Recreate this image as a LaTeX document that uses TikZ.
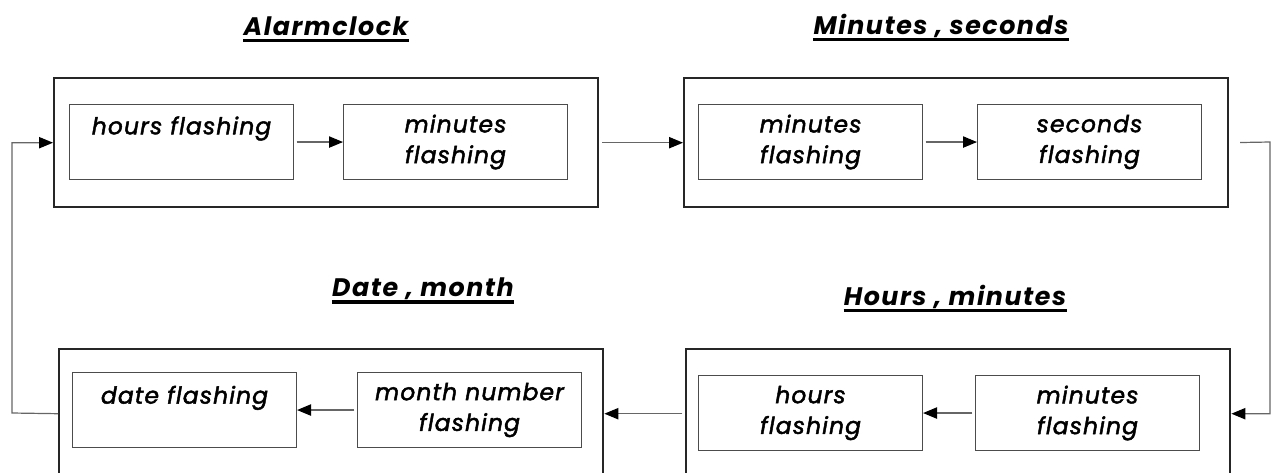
\documentclass[tikz,border=0pt]{standalone}
\usepackage{fontspec}
\setmainfont{Poppins}
\newfontfamily\boxfont{Poppins}[LetterSpace=5,FakeBold=2]
\newfontfamily\headfont{Poppins}[LetterSpace=6]
\usetikzlibrary{arrows.meta}

\begin{document}
\begin{tikzpicture}
  [x=0.75pt,y=-0.75pt,
   outer/.style={draw=black!85,line width=1.8pt,minimum width=408pt,minimum height=96.75pt,anchor=north west,inner sep=0pt},
   inner/.style={draw=black!70,line width=0.8pt,minimum width=168pt,minimum height=56.25pt,anchor=north west,
     align=center,font=\boxfont\itshape\fontsize{17.5}{23}\selectfont,inner sep=0pt},
   title/.style={font=\headfont\bfseries\itshape\fontsize{19}{22}\selectfont,inner sep=0pt},
   link/.style={draw=black!60,line width=0.9pt,-{Triangle[length=10.5pt,width=8.5pt,color=black]}}]
  \useasboundingbox (0,0) rectangle (1274,472);
  \clip (0,0) rectangle (1274,472);

  % top row
  \node[title] (t1) at (326,26) {Alarmclock};
  \node[title] (t2) at (941,26) {Minutes , seconds};
  \node[outer] (alarm) at (53,77) {};
  \node[outer] (ms) at (683,77) {};
  \node[inner] (a1) at (69,104)  {hours flashing\\[2pt]\mbox{}};
  \node[inner] (a2) at (343,104) {minutes\\flashing};
  \node[inner] (m1) at (698,104) {minutes\\flashing};
  \node[inner] (m2) at (977,104) {seconds\\flashing};

  % bottom row
  \node[title] (t3) at (423,289) {Date , month};
  \node[title] (t4) at (955,297) {Hours , minutes};
  \node[outer] (dm) at (58,348) {};
  \node[outer] (hm) at (685,348) {};
  \node[inner] (d1) at (72,372)  {date flashing\\\mbox{}};
  \node[inner] (d2) at (357,372) {month number\\flashing};
  \node[inner] (h1) at (698,375) {hours\\flashing};
  \node[inner] (h2) at (975,375) {minutes\\flashing};

  \coordinate (rloop) at (1270,142);
  \coordinate (lloop) at (12,413);

\foreach \t in {t1,t2,t3,t4}
    \draw[line width=2.4pt] ([yshift=-4pt]\t.base west) -- ([yshift=-4pt]\t.base east);
\foreach \from/\to in
{a1/a2, alarm/ms, m1/m2}
    \draw[link,shorten <=2pt] (\from.east) -- (\to.west);
\foreach \from/\to in
{h2/h1, hm/dm, d2/d1}
    \draw[link,shorten <=2pt] (\from.west) -- (\to.east);
    \draw[link,shorten <=8pt] (ms.east) -- (rloop) |- (hm.east);
    \draw[link] (dm.west) -- (lloop) |- (alarm.west);
\end{tikzpicture}
\end{document}
